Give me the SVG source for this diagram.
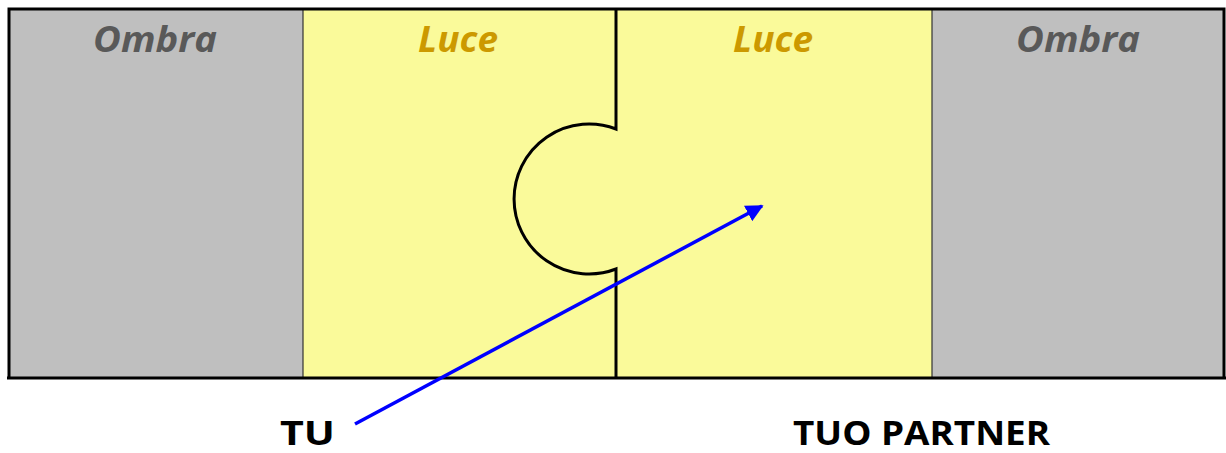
<svg xmlns="http://www.w3.org/2000/svg" width="1226" height="453" viewBox="0 0 1226 453">
<style>
.ombra{font-family:"Open Sans","Liberation Sans",sans-serif;font-weight:bold;font-style:italic;font-size:36px;fill:#595959;text-anchor:middle}
.luce{font-family:"Open Sans","Liberation Sans",sans-serif;font-weight:bold;font-style:italic;font-size:36px;fill:#CC9900;text-anchor:middle}
.lbl{font-family:"Open Sans","Liberation Sans",sans-serif;font-weight:bold;font-size:34px;fill:#000}
.gray{fill:#BFBFBF}
.yel{fill:#FAFA9A}
</style>
<defs>
<marker id="ah" viewBox="0 0 10 10" refX="9" refY="5" markerWidth="5" markerHeight="5" orient="auto" markerUnits="strokeWidth">
<path d="M0,0 L10,5 L0,10 z" fill="#0000FF"/>
</marker>
</defs>
<g id="ombra-left">
<rect class="gray" x="9" y="9" width="294" height="369"/>
<text class="ombra" x="155" y="52" textLength="124" lengthAdjust="spacingAndGlyphs">Ombra</text>
</g>
<g id="luce-left">
<rect class="yel" x="303" y="9" width="313" height="369"/>
<text class="luce" x="458" y="52" textLength="80" lengthAdjust="spacingAndGlyphs">Luce</text>
</g>
<g id="luce-right">
<rect class="yel" x="616" y="9" width="316" height="369"/>
<text class="luce" x="773" y="52" textLength="80" lengthAdjust="spacingAndGlyphs">Luce</text>
</g>
<g id="ombra-right">
<rect class="gray" x="932" y="9" width="292" height="369"/>
<text class="ombra" x="1078" y="52" textLength="124" lengthAdjust="spacingAndGlyphs">Ombra</text>
</g>
<g id="frame" fill="none" stroke="#000">
<line x1="303" y1="9" x2="303" y2="378" stroke-width="1.2" stroke="#333"/>
<line x1="932" y1="9" x2="932" y2="378" stroke-width="1.2" stroke="#333"/>
<path d="M616,9 V129 A75,75 0 1 0 616,269 V378" stroke-width="3"/>
<path d="M9,378 V9 H1224 V378" stroke-width="3"/>
<line x1="7" y1="378" x2="1226" y2="378" stroke-width="3"/>
</g>
<g id="labels">
<text class="lbl" x="280" y="445" textLength="55" lengthAdjust="spacingAndGlyphs">TU</text>
<text class="lbl" x="793" y="445" textLength="257" lengthAdjust="spacingAndGlyphs">TUO PARTNER</text>
</g>
<g id="connectors">
<line x1="355" y1="424" x2="762" y2="206" stroke="#0000FF" stroke-width="3.5" marker-end="url(#ah)"/>
</g>
</svg>
